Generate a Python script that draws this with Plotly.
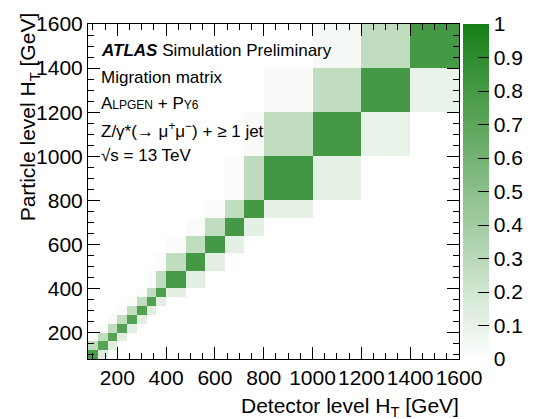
import plotly.graph_objects as go

# Bin edges (GeV), same for detector (x) and particle (y) level
ht_edges = [80, 120, 160, 200, 240, 280, 320, 360, 400, 480, 560, 640, 720, 800,
            1000, 1200, 1400, 1600]

# Diagonal fractions (particle bin j -> detector bin j)
diag_vals = [0.78, 0.72, 0.72, 0.73, 0.74, 0.75, 0.75, 0.76, 0.79, 0.80, 0.80,
             0.80, 0.80, 0.81, 0.80, 0.80, 0.80]
# Upper band: particle bin j -> detector bin j-1  (j = 1..16)
upper_vals = [0.28, 0.27, 0.27, 0.27, 0.27, 0.27, 0.27, 0.28, 0.27, 0.27,
              0.27, 0.27, 0.28, 0.27, 0.27, 0.27]
# Lower band: particle bin j -> detector bin j+1  (j = 0..15)
lower_vals = [0.14, 0.13, 0.13, 0.13, 0.13, 0.13, 0.13, 0.12, 0.12, 0.12,
              0.12, 0.12, 0.11, 0.11, 0.10, 0.10]
# Second upper band: particle bin j -> detector bin j-2 (j = 2..16)
upper2_vals = [0.02, 0.02, 0.02, 0.02, 0.02, 0.02, 0.02, 0.02, 0.02, 0.02,
               0.02, 0.02, 0.03, 0.03, 0.04]

cbar_ticks = [0, 0.1, 0.2, 0.3, 0.4, 0.5, 0.6, 0.7, 0.8, 0.9, 1]
cbar_labels = ["0", "0.1", "0.2", "0.3", "0.4", "0.5", "0.6", "0.7", "0.8", "0.9", "1"]

n = len(ht_edges) - 1
z = [[0.0] * n for _ in range(n)]
for j in range(n):
    z[j][j] = diag_vals[j]
for k, v in enumerate(upper_vals):
    j = k + 1
    z[j][j - 1] = v
for k, v in enumerate(lower_vals):
    z[k][k + 1] = v
for k, v in enumerate(upper2_vals):
    j = k + 2
    z[j][j - 2] = v

FONT = "Liberation Sans, Arial, Helvetica, sans-serif"

fig = go.Figure(go.Heatmap(
    x=ht_edges, y=ht_edges, z=z, zmin=0, zmax=1,
    colorscale=[[0, "rgb(255,255,255)"], [1, "rgb(22,128,22)"]],
    colorbar=dict(
        x=1.0101, xanchor="left", y=0.5, yanchor="middle",
        len=1, lenmode="fraction", thickness=26, thicknessmode="pixels",
        xpad=0, ypad=0, outlinewidth=0,
        tickvals=cbar_ticks, ticktext=cbar_labels,
        ticks="inside", ticklen=11, tickcolor="black", tickwidth=1,
        tickfont=dict(family=FONT, size=21, color="black"),
    ),
    hoverinfo="skip",
))

axis_common = dict(
    range=[80, 1600], tick0=0, dtick=200,
    showline=True, linecolor="black", linewidth=1, mirror="ticks",
    ticks="inside", ticklen=12, tickwidth=1, tickcolor="black",
    minor=dict(ticks="inside", ticklen=6, dtick=50, tick0=0, tickcolor="black"),
    showgrid=False, zeroline=False,
    tickfont=dict(family=FONT, size=21, color="black"),
)

fig.update_layout(
    width=546, height=419,
    margin=dict(l=88, r=63, t=15, b=60),
    paper_bgcolor="white", plot_bgcolor="white",
    xaxis=dict(**axis_common),
    yaxis=dict(**axis_common),
    font=dict(family=FONT, color="black"),
)

def py(ypix):
    return (359 - ypix) / 344.0

ann = [
    dict(text="<b><i>ATLAS</i></b> Simulation Preliminary", y=py(42)),
    dict(text="Migration matrix", y=py(70)),
    dict(text="A<span style='font-size:12px'>LPGEN</span> + P<span style='font-size:12px'>Y6</span>", y=py(97)),
    dict(text="Z/γ*(→ μ<sup>+</sup>μ<sup>−</sup>) + ≥ 1 jet", y=py(124)),
    dict(text="√s = 13 TeV", y=py(150)),
]
for a in ann:
    fig.add_annotation(x=(100 - 88) / 395.0, xref="paper", yref="paper",
                       xanchor="left", yanchor="middle", showarrow=False,
                       font=dict(family=FONT, size=17, color="black"), **a)

fig.add_annotation(text="Detector level H<sub>T</sub> [GeV]", x=1, xshift=2,
                   y=py(408), xref="paper", yref="paper", xanchor="right",
                   yanchor="middle", showarrow=False,
                   font=dict(family=FONT, size=21, color="black"))
fig.add_annotation(text="Particle level H<sub>T</sub> [GeV]", textangle=-90,
                   x=(25 - 88) / 395.0, y=py(110), xref="paper", yref="paper",
                   xanchor="center", yanchor="middle", showarrow=False,
                   font=dict(family=FONT, size=21, color="black"))

fig.write_html("out.html")
